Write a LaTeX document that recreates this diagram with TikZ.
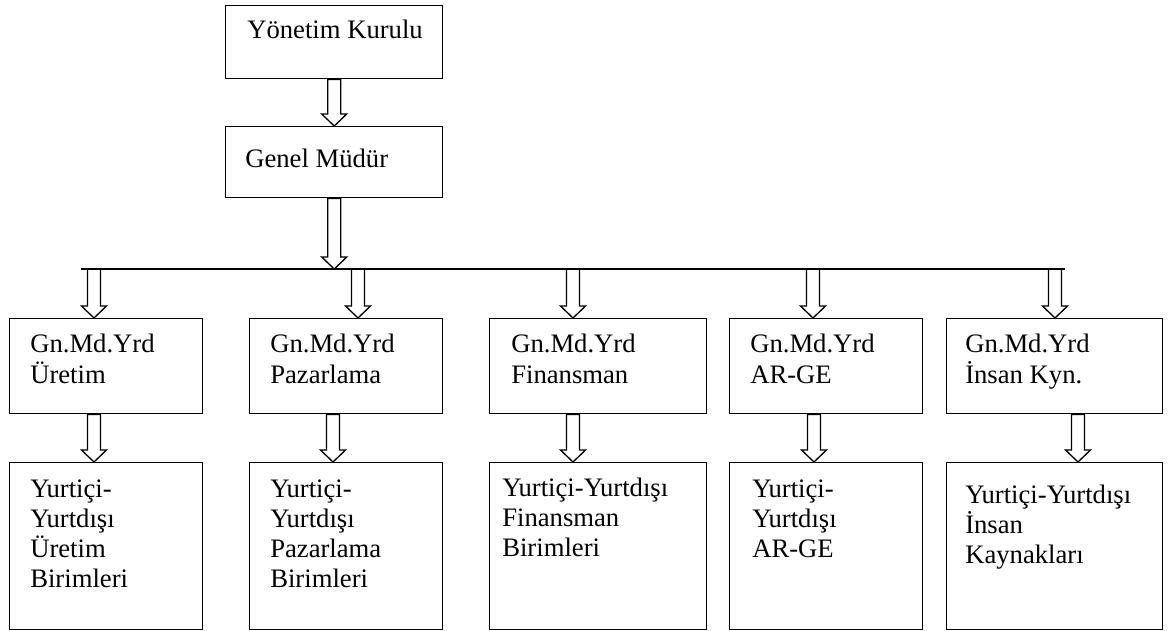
\documentclass[tikz,border=0pt]{standalone}
\usepackage{fontspec}
\setmainfont{Liberation Serif}
\usetikzlibrary{calc}

% left-aligned multi-line label, baseline at its first line
\newcommand\ml[1]{\parbox[t]{200pt}{\raggedright #1}}

% hollow block arrow pointing down from #1 to #2
\newcommand\blockarrow[2]{%
  \draw[barrow] let \p1=#1, \p2=#2 in
    (\x2-4.9pt,\y1) -- (\x2-4.9pt,\y2+9pt) -- (\x2-9.4pt,\y2+9pt) -- (\x2,\y2)
    -- (\x2+9.4pt,\y2+9pt) -- (\x2+4.9pt,\y2+9pt) -- (\x2+4.9pt,\y1) -- cycle;}

\tikzset{
  box/.style={draw, line width=1.1pt, inner sep=0pt, anchor=north west},
  narrow/.style={minimum width=193*0.75pt},
  wide/.style={minimum width=217*0.75pt},
  upper/.style={minimum height=95*0.75pt},
  lower/.style={minimum height=167*0.75pt},
  lbl/.style={anchor=base west, inner sep=0pt, font=\fontsize{20}{22.7}\selectfont},
  barrow/.style={draw, line width=1pt, line join=miter},
  bus/.style={draw, line width=1.1pt}
}

\begin{document}
\begin{tikzpicture}[x=0.75pt,y=-0.75pt]
\useasboundingbox (0,0) rectangle (1172,631);

% top of the chart
\node[box, wide, minimum height=73*0.75pt] (yk) at (225,5) {};
\node[box, wide, minimum height=71*0.75pt] (gm) at (225,126) {};

% deputy general managers
\node[box, narrow, upper] (u1) at (9,318) {};
\node[box, narrow, upper] (u2) at (249,318) {};
\node[box, wide, upper] (u3) at (489,318) {};
\node[box, narrow, upper] (u4) at (729,318) {};
\node[box, upper, minimum width=216*0.75pt] (u5) at (946,318) {};

% domestic / foreign units
\node[box, narrow, lower] (l1) at (9,462) {};
\node[box, narrow, lower] (l2) at (249,462) {};
\node[box, wide, lower] (l3) at (489,462) {};
\node[box, narrow, lower] (l4) at (729,462) {};
\node[box, lower, minimum width=216*0.75pt] (l5) at (946,462) {};

% labels
\node[lbl] (tyk) at ($(yk.north west)+(22,34)$) {\ml{Yönetim Kurulu}};
\node[lbl] (tgm) at ($(gm.north west)+(20,42)$) {\ml{Genel Müdür}};

\node[lbl] (tu1) at ($(u1.north west)+(21,35)$) {\ml{Gn.Md.Yrd\\Üretim}};
\node[lbl] (tu2) at ($(u2.north west)+(21,35)$) {\ml{Gn.Md.Yrd\\Pazarlama}};
\node[lbl] (tu3) at ($(u3.north west)+(22,35)$) {\ml{Gn.Md.Yrd\\Finansman}};
\node[lbl] (tu4) at ($(u4.north west)+(21,35)$) {\ml{Gn.Md.Yrd\\AR-GE}};
\node[lbl] (tu5) at ($(u5.north west)+(19,35)$) {\ml{Gn.Md.Yrd\\İnsan Kyn.}};

\node[lbl] (tl1) at ($(l1.north west)+(21,35)$) {\ml{Yurtiçi-\\Yurtdışı\\Üretim\\Birimleri}};
\node[lbl] (tl2) at ($(l2.north west)+(21,35)$) {\ml{Yurtiçi-\\Yurtdışı\\Pazarlama\\Birimleri}};
\node[lbl] (tl3) at ($(l3.north west)+(13,34)$) {\ml{Yurtiçi-Yurtdışı\\Finansman\\Birimleri}};
\node[lbl] (tl4) at ($(l4.north west)+(23,35)$) {\ml{Yurtiçi-\\Yurtdışı\\AR-GE}};
\node[lbl] (tl5) at ($(l5.north west)+(19,41)$) {\ml{Yurtiçi-Yurtdışı\\İnsan\\Kaynakları}};

% distribution line
\coordinate (busL) at (81,269);
\coordinate (busR) at (1065,269);
\draw[bus] (busL) -- (busR);

% drops from the distribution line
\coordinate (b1) at (94,269);
\coordinate (b2) at (358,269);
\coordinate (b3) at (573,269);
\coordinate (b4) at (813,269);
\coordinate (b5) at (1055,269);

% starts of the lower arrows
\coordinate (s1) at ($(u1.south west)+(85,0)$);
\coordinate (s2) at ($(u2.south west)+(84,0)$);
\coordinate (s3) at ($(u3.south west)+(84,0)$);
\coordinate (s4) at ($(u4.south west)+(85,0)$);
\coordinate (s5) at ($(u5.south west)+(132,0)$);

\blockarrow{(yk.south)}{(gm.north)}
\blockarrow{(gm.south)}{(gm.south |- busL)}

\blockarrow{(b1)}{(b1 |- u1.north)}
\blockarrow{(b2)}{(b2 |- u2.north)}
\blockarrow{(b3)}{(b3 |- u3.north)}
\blockarrow{(b4)}{(b4 |- u4.north)}
\blockarrow{(b5)}{(b5 |- u5.north)}

\blockarrow{(s1)}{(s1 |- l1.north)}
\blockarrow{(s2)}{(s2 |- l2.north)}
\blockarrow{(s3)}{(s3 |- l3.north)}
\blockarrow{(s4)}{(s4 |- l4.north)}
\blockarrow{(s5)}{(s5 |- l5.north)}
\end{tikzpicture}
\end{document}
